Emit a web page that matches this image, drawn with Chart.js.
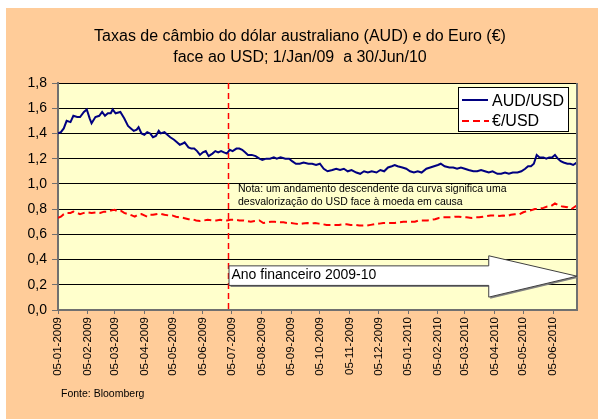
<!DOCTYPE html>
<html><head><meta charset="utf-8">
<script src="https://cdn.jsdelivr.net/npm/chart.js@4"></script>
<style>html,body{margin:0;padding:0;background:#fff;}#wrap{width:598px;height:419px;}</style>
</head><body><div id="wrap"><canvas id="c" width="598" height="419"></canvas></div>
<script>
// ---- dados ----
const titulo = ['Taxas de câmbio do dólar australiano (AUD) e do Euro (€)', 'face ao USD; 1/Jan/09  a 30/Jun/10'];
const fonte = 'Fonte: Bloomberg';
const nota = ['Nota: um andamento descendente da curva significa uma', 'desvalorização do USD face à moeda em causa'];
const textoSeta = 'Ano financeiro 2009-10';
const serieNomes = ['AUD/USD', '€/USD'];
// dias desde 05-01-2009
const xTickDias = [0,31,59,90,120,151,181,212,243,273,304,334,365,396,424,455,485,516];
const xTickLabels = ['05-01-2009','05-02-2009','05-03-2009','05-04-2009','05-05-2009','05-06-2009','05-07-2009','05-08-2009','05-09-2009','05-10-2009','05-11-2009','05-12-2009','05-01-2010','05-02-2010','05-03-2010','05-04-2010','05-05-2010','05-06-2010'];
const diaFinal = 541;              // 30-06-2010
const inicioAnoFinanceiro = 177;   // 01-07-2009
const yTicks = [0,0.2,0.4,0.6,0.8,1.0,1.2,1.4,1.6,1.8];

const audDias = [0,3,6,9,13,16,20,23,27,30,33,35,39,43,46,49,52,55,57,60,65,69,73,76,79,82,84,87,90,93,96,99,102,105,107,111,114,117,121,124,127,130,132,136,139,142,145,148,151,154,157,161,164,167,170,173,176,179,182,186,189,192,195,198,202,206,210,213,217,221,225,228,232,237,241,244,248,252,256,261,265,269,273,277,281,286,290,294,298,302,306,311,315,319,323,327,332,336,340,344,348,351,354,359,363,367,371,375,379,384,388,392,396,399,403,408,412,416,420,424,428,433,437,441,445,449,453,458,462,466,470,474,479,483,487,490,493,496,499,502,506,509,512,515,518,521,524,527,531,534,537,541];
const audValores = [1.40,1.41,1.44,1.50,1.49,1.54,1.53,1.53,1.57,1.59,1.52,1.48,1.53,1.54,1.57,1.54,1.56,1.56,1.59,1.56,1.57,1.52,1.46,1.44,1.42,1.43,1.45,1.40,1.39,1.41,1.40,1.37,1.38,1.42,1.40,1.41,1.39,1.37,1.35,1.33,1.31,1.32,1.33,1.29,1.28,1.28,1.26,1.23,1.25,1.26,1.22,1.24,1.26,1.25,1.26,1.25,1.24,1.27,1.26,1.28,1.28,1.27,1.25,1.23,1.23,1.22,1.20,1.19,1.20,1.20,1.21,1.20,1.21,1.20,1.20,1.18,1.16,1.16,1.17,1.16,1.16,1.15,1.16,1.12,1.10,1.11,1.12,1.11,1.12,1.10,1.11,1.09,1.08,1.10,1.09,1.10,1.09,1.11,1.10,1.13,1.14,1.15,1.14,1.13,1.12,1.10,1.09,1.10,1.09,1.12,1.13,1.14,1.15,1.16,1.14,1.13,1.13,1.12,1.13,1.12,1.11,1.10,1.10,1.11,1.10,1.09,1.10,1.08,1.08,1.09,1.08,1.09,1.09,1.10,1.12,1.14,1.14,1.16,1.23,1.21,1.21,1.20,1.21,1.21,1.23,1.20,1.18,1.17,1.16,1.16,1.15,1.17];

const eurDias = [0,3,6,9,13,16,20,23,27,31,35,40,44,48,52,56,59,63,66,69,73,77,80,83,87,90,93,96,99,102,106,111,115,119,123,127,131,136,140,144,148,152,156,161,165,169,173,176,180,185,189,193,197,201,205,210,214,218,222,226,230,235,239,243,247,251,255,260,264,268,272,276,280,285,289,293,297,301,305,310,314,318,322,326,330,335,339,343,347,351,355,360,364,368,372,376,381,385,389,393,397,401,406,410,414,418,422,426,431,435,439,443,447,451,456,460,464,468,472,476,481,485,489,493,497,501,506,510,514,518,522,526,531,535,538,541];
const eurValores = [0.73,0.74,0.76,0.77,0.77,0.78,0.77,0.76,0.77,0.775,0.77,0.775,0.77,0.78,0.78,0.79,0.795,0.78,0.785,0.77,0.76,0.75,0.74,0.755,0.76,0.75,0.74,0.755,0.755,0.76,0.765,0.755,0.75,0.75,0.74,0.735,0.73,0.72,0.72,0.71,0.705,0.71,0.715,0.71,0.71,0.715,0.71,0.71,0.715,0.715,0.71,0.71,0.705,0.70,0.705,0.71,0.69,0.695,0.70,0.70,0.695,0.695,0.69,0.69,0.685,0.68,0.685,0.69,0.685,0.69,0.685,0.68,0.675,0.675,0.675,0.675,0.68,0.68,0.675,0.675,0.67,0.67,0.67,0.675,0.68,0.685,0.69,0.69,0.69,0.69,0.695,0.70,0.70,0.70,0.70,0.71,0.71,0.71,0.715,0.72,0.73,0.735,0.735,0.735,0.74,0.74,0.735,0.735,0.73,0.735,0.735,0.74,0.745,0.75,0.75,0.745,0.75,0.745,0.755,0.76,0.76,0.775,0.785,0.79,0.80,0.80,0.81,0.82,0.825,0.845,0.83,0.82,0.815,0.80,0.815,0.83];

// ---- estilos ----
const FONT = '"Liberation Sans", Arial, sans-serif';
const AXIS = '#707070';
const AUD_COR = '#000080';
const EUR_COR = '#FF0000';

const decor = {
  id: 'decor',
  beforeDraw(chart) {
    const {ctx, chartArea: a} = chart;
    ctx.save();
    ctx.fillStyle = '#fff'; ctx.fillRect(0, 0, chart.width, chart.height);
    ctx.fillStyle = '#FFCC99'; ctx.fillRect(6, 8, chart.width - 6, chart.height - 8);
    ctx.fillStyle = '#FFFFCC'; ctx.fillRect(a.left, a.top, a.right - a.left, a.bottom - a.top);
    ctx.fillStyle = '#000';
    ctx.font = '16px ' + FONT; ctx.textAlign = 'center'; ctx.textBaseline = 'alphabetic';
    ctx.fillText(titulo[0], 300, 41);
    ctx.fillText(titulo[1], 300, 62);
    ctx.font = '10.5px ' + FONT; ctx.textAlign = 'left';
    ctx.fillText(fonte, 61, 397);
    ctx.restore();
  },
  afterDatasetsDraw(chart) {
    const {ctx, chartArea: a, scales: {x, y}} = chart;
    ctx.save();
    // borda direita
    ctx.strokeStyle = AXIS; ctx.lineWidth = 2;
    ctx.beginPath(); ctx.moveTo(a.right, a.top); ctx.lineTo(a.right, a.bottom + 1); ctx.stroke();
    // linha vertical
    const xv = Math.round(x.getPixelForValue(inicioAnoFinanceiro)) + 0.5;
    ctx.strokeStyle = EUR_COR; ctx.lineWidth = 1.5; ctx.setLineDash([6, 4]);
    ctx.beginPath(); ctx.moveTo(xv, a.top); ctx.lineTo(xv, a.bottom); ctx.stroke();
    ctx.setLineDash([]);
    // seta
    const x0 = xv + 0.5, xh = x.getPixelForValue(449), xt = a.right;
    const bt = y.getPixelForValue(0.35), bb = y.getPixelForValue(0.195);
    const ht = y.getPixelForValue(0.43), hb = y.getPixelForValue(0.102), hc = y.getPixelForValue(0.268);
    const path = (dx, dy) => {
      ctx.beginPath();
      ctx.moveTo(x0 + dx, bt + dy); ctx.lineTo(xh + dx, bt + dy); ctx.lineTo(xh + dx, ht + dy);
      ctx.lineTo(xt + dx, hc + dy); ctx.lineTo(xh + dx, hb + dy); ctx.lineTo(xh + dx, bb + dy);
      ctx.lineTo(x0 + dx, bb + dy); ctx.closePath();
    };
    ctx.fillStyle = '#808080'; path(1.5, 1.5); ctx.fill();
    ctx.fillStyle = '#fff'; ctx.strokeStyle = '#404040'; ctx.lineWidth = 1; path(0, 0); ctx.fill(); ctx.stroke();
    ctx.fillStyle = '#000'; ctx.font = '14px ' + FONT; ctx.textAlign = 'left'; ctx.textBaseline = 'middle';
    ctx.fillText(textoSeta, x0 + 2.5, (bt + bb) / 2);
    // nota
    ctx.font = '10.5px ' + FONT; ctx.textBaseline = 'alphabetic';
    ctx.fillText(nota[0], 238, 192);
    ctx.fillText(nota[1], 238, 204.5);
    // legenda
    ctx.fillStyle = '#fff'; ctx.fillRect(458, 87.5, 110, 44);
    ctx.strokeStyle = '#000'; ctx.lineWidth = 1; ctx.strokeRect(458.5, 87.5, 110, 44);
    ctx.lineWidth = 2; ctx.strokeStyle = AUD_COR;
    ctx.beginPath(); ctx.moveTo(462, 100); ctx.lineTo(488, 100); ctx.stroke();
    ctx.strokeStyle = EUR_COR; ctx.setLineDash([7, 4]);
    ctx.beginPath(); ctx.moveTo(462, 121); ctx.lineTo(489, 121); ctx.stroke();
    ctx.setLineDash([]);
    ctx.fillStyle = '#000'; ctx.font = '16px ' + FONT;
    ctx.fillText(serieNomes[0], 492, 106);
    ctx.fillText(serieNomes[1], 492, 126);
    ctx.restore();
  }
};

new Chart(document.getElementById('c'), {
  type: 'line',
  data: {
    datasets: [
      { label: serieNomes[0], data: audDias.map((d, i) => ({x: d, y: audValores[i]})),
        borderColor: AUD_COR, borderWidth: 2, pointRadius: 0, tension: 0, fill: false },
      { label: serieNomes[1], data: eurDias.map((d, i) => ({x: d, y: eurValores[i]})),
        borderColor: EUR_COR, borderWidth: 2, borderDash: [7, 4], pointRadius: 0, tension: 0, fill: false }
    ]
  },
  options: {
    responsive: false, animation: false, devicePixelRatio: 1,
    layout: { padding: { left: 0, top: 83, right: 21, bottom: 0 } },
    plugins: { legend: { display: false }, tooltip: { enabled: false }, title: { display: false } },
    scales: {
      x: {
        type: 'linear', min: 0, max: diaFinal,
        afterBuildTicks: s => { s.ticks = xTickDias.map(v => ({value: v})); },
        afterFit: s => { s.height = 109; },
        grid: { drawOnChartArea: false, drawTicks: true, tickLength: 4, tickColor: AXIS, tickWidth: 1 },
        border: { display: true, color: AXIS, width: 2 },
        ticks: { autoSkip: false, maxRotation: 90, minRotation: 90, padding: 3, color: '#000',
          font: { family: FONT, size: 11.5 },
          callback: v => { const i = xTickDias.indexOf(v); return i >= 0 ? xTickLabels[i] : ''; } }
      },
      y: {
        min: 0, max: 1.8,
        afterBuildTicks: s => { s.ticks = yTicks.map(v => ({value: v})); },
        afterFit: s => { s.width = 58; },
        grid: { color: '#000', lineWidth: 1, drawTicks: true, tickLength: 6, tickColor: AXIS },
        border: { display: true, color: AXIS, width: 2 },
        ticks: { padding: 5, color: '#000', font: { family: FONT, size: 14 },
          callback: v => v.toFixed(1).replace('.', ',') }
      }
    }
  },
  plugins: [decor]
});
</script>
</body></html>
